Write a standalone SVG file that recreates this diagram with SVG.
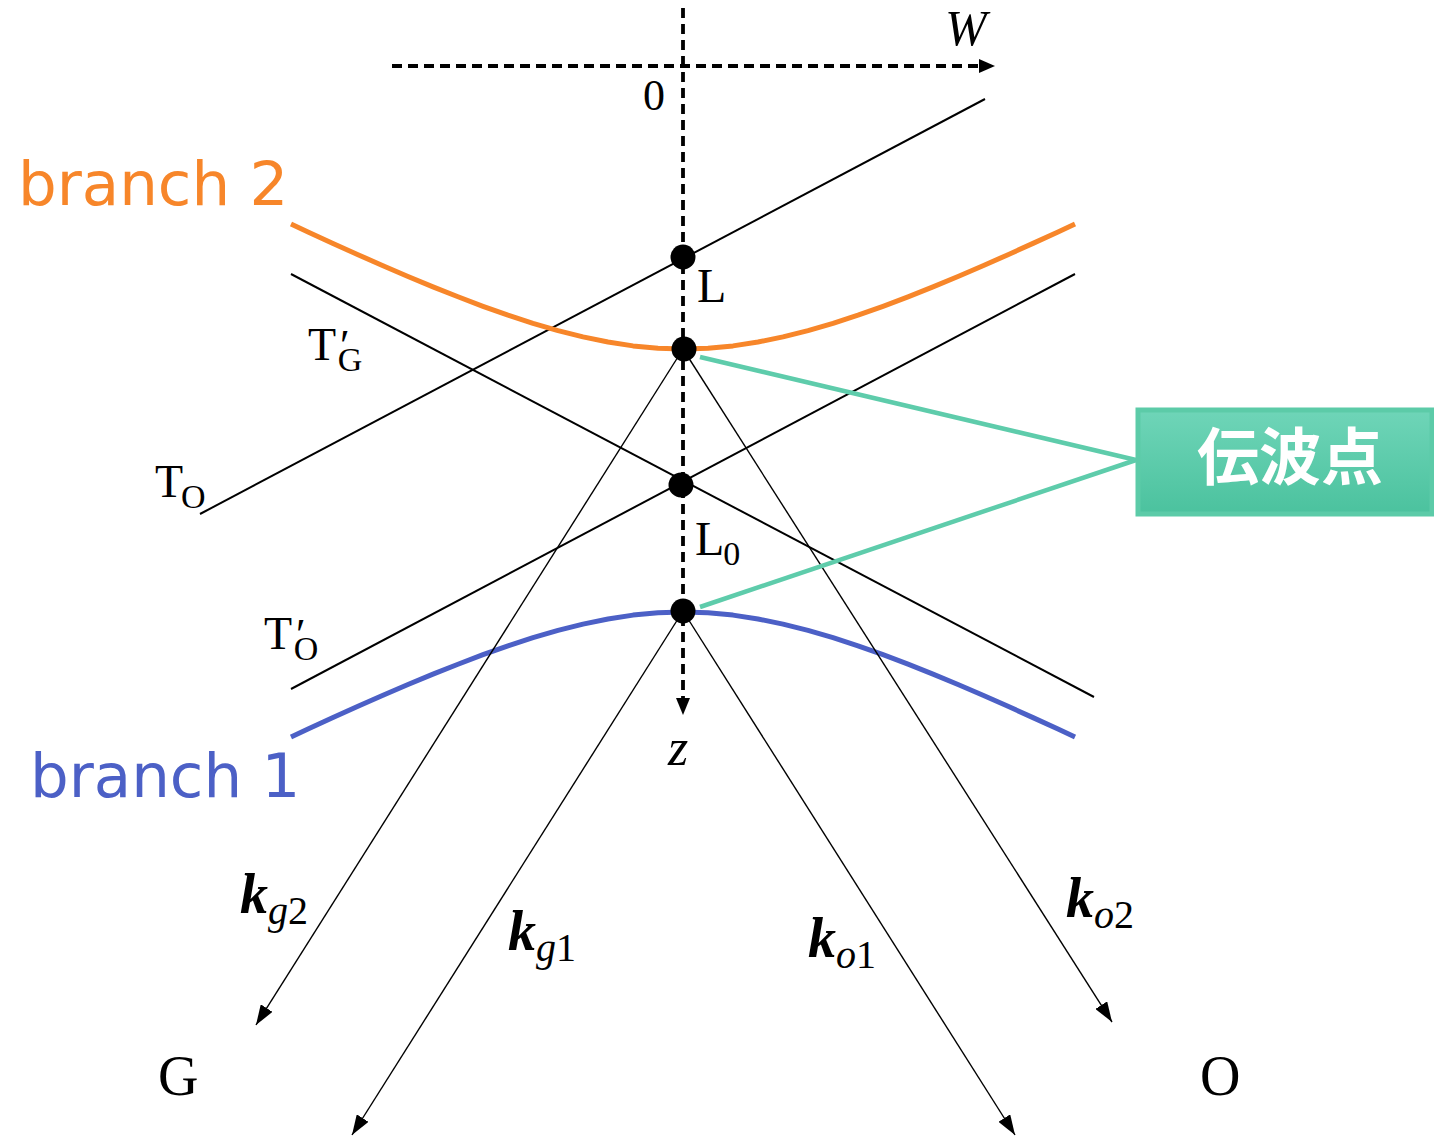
<svg xmlns="http://www.w3.org/2000/svg" width="1434" height="1137" viewBox="0 0 1434 1137">
<defs>
<style>
.thin{stroke:#000;stroke-width:2;fill:none}
.k{stroke:#000;stroke-width:1.4;fill:none}
.axis{stroke:#000;stroke-width:3.8;stroke-dasharray:10 6;fill:none}
.teal{stroke:#5ECCAB;stroke-width:4.5;fill:none}
.serif{font-family:"Liberation Serif","DejaVu Serif",serif;fill:#000}
.kb{font-weight:bold;font-style:italic}
.br{font-family:"DejaVu Sans","Liberation Sans",sans-serif;font-size:61px}
</style>
<marker id="ah" viewBox="0 0 20 14" refX="20" refY="7" markerWidth="20" markerHeight="14" markerUnits="userSpaceOnUse" orient="auto">
<path d="M0,0 L20,7 L0,14 Z" fill="#000"/>
</marker>
<linearGradient id="boxg" x1="0" y1="0" x2="0" y2="1">
<stop offset="0" stop-color="#6FD5B8"/>
<stop offset="1" stop-color="#4BC29E"/>
</linearGradient>
</defs>

<g id="lines">
<line class="thin" x1="200" y1="514" x2="985" y2="99"/>
<line class="thin" x1="291" y1="689" x2="1075" y2="274"/>
<line class="thin" x1="291" y1="274" x2="1094" y2="697"/>
</g>

<g id="branch2">
<path d="M291,224 L308,231.9 L333,243.4 L358,254.7 L383,265.7 L408,276.5 L433,286.9 L458,296.8 L483,306.3 L508,315.2 L533,323.3 L558,330.6 L583,336.9 L608,342.05 L633,345.9 L658,348.2 L683,349 L708,348.2 L733,345.9 L758,342.05 L783,336.9 L808,330.6 L833,323.3 L858,315.2 L883,306.3 L908,296.8 L933,286.9 L958,276.5 L983,265.7 L1008,254.7 L1033,243.4 L1058,231.9 L1075,224" fill="none" stroke="#F7862A" stroke-width="5" stroke-linejoin="round"/>
<text class="br" x="18" y="205" fill="#F7862A">branch 2</text>
</g>

<g id="branch1">
<path d="M291,737 L308,729.1 L333,717.6 L358,706.3 L383,695.3 L408,684.5 L433,674.1 L458,664.2 L483,654.7 L508,645.8 L533,637.7 L558,630.4 L583,624.1 L608,619 L633,615.1 L658,612.8 L683,612 L708,612.8 L733,615.1 L758,619 L783,624.1 L808,630.4 L833,637.7 L858,645.8 L883,654.7 L908,664.2 L933,674.1 L958,684.5 L983,695.3 L1008,706.3 L1033,717.6 L1058,729.1 L1075,737" fill="none" stroke="#4C60C6" stroke-width="5" stroke-linejoin="round"/>
<text class="br" x="30" y="797" fill="#4C60C6">branch 1</text>
</g>

<g id="connectors">
<line class="axis" x1="392" y1="66" x2="979" y2="66"/>
<path d="M979,59 L995,66 L979,73 Z" fill="#000"/>
<line class="axis" x1="683" y1="8" x2="683" y2="700"/>
<path d="M676,698 L683,715 L690,698 Z" fill="#000"/>
<line class="k" x1="683" y1="349" x2="256" y2="1025" marker-end="url(#ah)"/>
<line class="k" x1="683" y1="349" x2="1112" y2="1022" marker-end="url(#ah)"/>
<line class="k" x1="683" y1="611" x2="352" y2="1135" marker-end="url(#ah)"/>
<line class="k" x1="683" y1="611" x2="1015" y2="1135" marker-end="url(#ah)"/>
<line class="teal" x1="700" y1="357" x2="1136" y2="460"/>
<line class="teal" x1="700" y1="607" x2="1136" y2="460"/>
</g>

<g id="points">
<circle cx="683" cy="257" r="12.5" fill="#000"/>
<circle cx="684" cy="349" r="12.5" fill="#000"/>
<circle cx="681" cy="485" r="12.5" fill="#000"/>
<circle cx="683" cy="611" r="12.5" fill="#000"/>
</g>

<g id="box">
<rect x="1138" y="410" width="294" height="104" fill="url(#boxg)" stroke="#5CCBA8" stroke-width="5"/>
<text x="1290" y="480" text-anchor="middle" font-family="'Noto Sans CJK JP','Noto Sans CJK SC',sans-serif" font-weight="bold" font-size="62" fill="#fff">伝波点</text>
</g>

<g id="labels">
<text class="serif" x="945" y="45" font-size="50" font-style="italic">W</text>
<text class="serif" x="643" y="110" font-size="44">0</text>
<text class="serif" x="697" y="302" font-size="48">L</text>
<text class="serif" x="308" y="360" font-size="46">T<tspan font-size="44" dx="4">′</tspan><tspan font-size="34" dx="-12" dy="11">G</tspan></text>
<text class="serif" x="155" y="497" font-size="46">T<tspan font-size="34" dx="-2" dy="11">O</tspan></text>
<text class="serif" x="695" y="555" font-size="48">L<tspan font-size="34" dx="-1" dy="10">0</tspan></text>
<text class="serif" x="264" y="649" font-size="46">T<tspan font-size="44" dx="4">′</tspan><tspan font-size="34" dx="-12" dy="11">O</tspan></text>
<text class="serif" x="668" y="765" font-size="52" font-style="italic">z</text>
<text class="serif" x="240" y="913" font-size="56"><tspan class="kb">k</tspan><tspan font-size="40" font-style="italic" dy="11">g</tspan><tspan font-size="40">2</tspan></text>
<text class="serif" x="508" y="950" font-size="56"><tspan class="kb">k</tspan><tspan font-size="40" font-style="italic" dy="11">g</tspan><tspan font-size="40">1</tspan></text>
<text class="serif" x="808" y="957" font-size="56"><tspan class="kb">k</tspan><tspan font-size="40" font-style="italic" dy="11">o</tspan><tspan font-size="40">1</tspan></text>
<text class="serif" x="1066" y="917" font-size="56"><tspan class="kb">k</tspan><tspan font-size="40" font-style="italic" dy="11">o</tspan><tspan font-size="40">2</tspan></text>
<text class="serif" x="158" y="1095" font-size="56">G</text>
<text class="serif" x="1200" y="1095" font-size="56">O</text>
</g>
</svg>
